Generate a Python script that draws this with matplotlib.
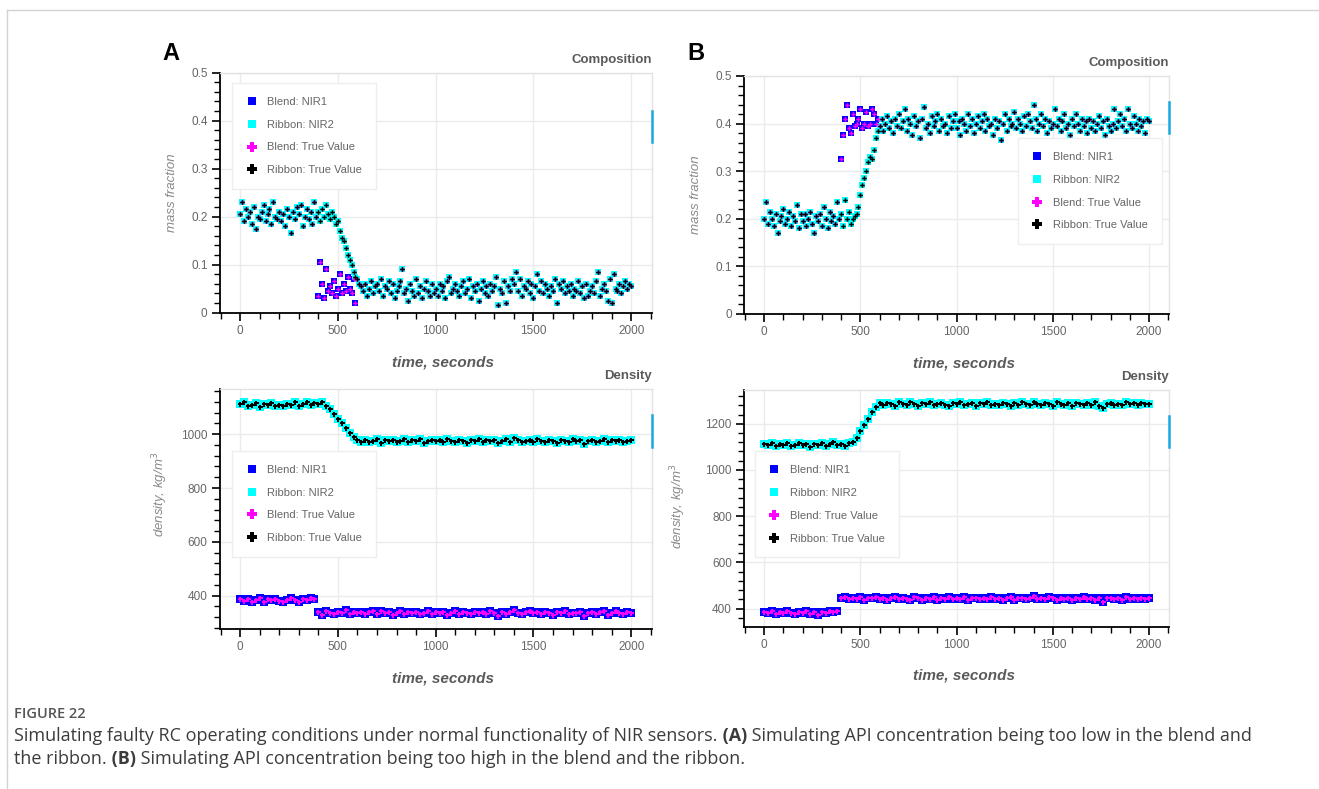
import matplotlib
matplotlib.use("Agg")

import numpy as np
import matplotlib.pyplot as plt
from matplotlib.lines import Line2D
from matplotlib.ticker import MultipleLocator, FuncFormatter

plt.rcParams["font.family"] = ["Liberation Sans", "DejaVu Sans"]

# -----------------------------
# DATA
# -----------------------------
COMP_STEP = 10   # seconds between composition samples
DENS_STEP = 20   # seconds between density samples
BLEND_SEG_START = 400  # blend composition departs from ribbon here

comp_a_ribbon = [
    0.205, 0.23, 0.19, 0.215, 0.2, 0.21, 0.185, 0.22, 0.175, 0.2,
    0.195, 0.21, 0.225, 0.19, 0.205, 0.215, 0.185, 0.23, 0.2, 0.195,
    0.21, 0.19, 0.205, 0.18, 0.215, 0.2, 0.165, 0.21, 0.195, 0.22,
    0.205, 0.225, 0.18, 0.2, 0.215, 0.195, 0.21, 0.185, 0.23, 0.2,
    0.21, 0.19, 0.215, 0.2, 0.225, 0.205, 0.195, 0.21, 0.2, 0.185,
    0.19, 0.17, 0.155, 0.15, 0.135, 0.12, 0.11, 0.1, 0.085, 0.075,
    0.07, 0.06, 0.055, 0.045, 0.06, 0.035, 0.05, 0.065, 0.04, 0.055,
    0.06, 0.045, 0.07, 0.035, 0.055, 0.05, 0.065, 0.04, 0.06, 0.03,
    0.045, 0.055, 0.065, 0.09, 0.04, 0.05, 0.025, 0.06, 0.045, 0.035,
    0.07, 0.04, 0.055, 0.03, 0.05, 0.065, 0.045, 0.035, 0.06, 0.04,
    0.05, 0.035, 0.06, 0.045, 0.055, 0.03, 0.065, 0.075, 0.04, 0.05,
    0.06, 0.045, 0.035, 0.055, 0.065, 0.04, 0.05, 0.07, 0.03, 0.055,
    0.045, 0.06, 0.025, 0.05, 0.065, 0.04, 0.055, 0.035, 0.06, 0.045,
    0.055, 0.075, 0.015, 0.05, 0.04, 0.065, 0.02, 0.055, 0.045, 0.07,
    0.06, 0.085, 0.045, 0.07, 0.035, 0.055, 0.05, 0.065, 0.04, 0.06,
    0.03, 0.055, 0.08, 0.045, 0.065, 0.04, 0.06, 0.05, 0.035, 0.055,
    0.045, 0.07, 0.02, 0.06, 0.05, 0.065, 0.04, 0.055, 0.045, 0.06,
    0.035, 0.05, 0.045, 0.065, 0.04, 0.055, 0.03, 0.06, 0.035, 0.045,
    0.055, 0.04, 0.065, 0.085, 0.035, 0.05, 0.06, 0.045, 0.025, 0.07,
    0.02, 0.08, 0.05, 0.045, 0.06, 0.04, 0.055, 0.065, 0.05, 0.06,
    0.055,
]
comp_a_blend_seg = [
    0.035, 0.105, 0.06, 0.03, 0.09, 0.045, 0.055, 0.04, 0.065, 0.035,
    0.05, 0.08, 0.04, 0.06, 0.045, 0.075, 0.05, 0.04, 0.07, 0.02,
]

comp_b_ribbon = [
    0.2, 0.235, 0.19, 0.215, 0.2, 0.185, 0.21, 0.17, 0.195, 0.205,
    0.22, 0.19, 0.2, 0.215, 0.185, 0.205, 0.195, 0.23, 0.18, 0.21,
    0.195, 0.21, 0.185, 0.2, 0.215, 0.19, 0.17, 0.205, 0.195, 0.21,
    0.185, 0.225, 0.2, 0.18, 0.215, 0.195, 0.205, 0.19, 0.235, 0.2,
    0.21, 0.185, 0.24, 0.2, 0.215, 0.19, 0.2, 0.205, 0.21, 0.225,
    0.25, 0.27, 0.285, 0.3, 0.32, 0.33, 0.325, 0.345, 0.37, 0.385,
    0.395, 0.41, 0.385, 0.4, 0.415, 0.39, 0.405, 0.38, 0.41, 0.395,
    0.42, 0.39, 0.405, 0.43, 0.385, 0.41, 0.4, 0.375, 0.415, 0.395,
    0.405, 0.37, 0.41, 0.435, 0.39, 0.4, 0.38, 0.415, 0.395, 0.405,
    0.42, 0.385, 0.41, 0.395, 0.4, 0.38, 0.415, 0.39, 0.405, 0.42,
    0.39, 0.405, 0.375, 0.41, 0.4, 0.385, 0.42, 0.395, 0.41, 0.38,
    0.4, 0.415, 0.39, 0.405, 0.42, 0.385, 0.41, 0.395, 0.4, 0.375,
    0.41, 0.39, 0.405, 0.365, 0.4, 0.42, 0.385, 0.41, 0.395, 0.4,
    0.425, 0.39, 0.41, 0.4, 0.385, 0.415, 0.395, 0.42, 0.405, 0.39,
    0.44, 0.41, 0.385, 0.4, 0.42, 0.395, 0.41, 0.38, 0.405, 0.39,
    0.4, 0.43, 0.395, 0.41, 0.385, 0.405, 0.42, 0.39, 0.4, 0.375,
    0.41, 0.395, 0.42, 0.4, 0.385, 0.41, 0.395, 0.405, 0.38, 0.41,
    0.39, 0.405, 0.385, 0.4, 0.415, 0.39, 0.405, 0.375, 0.41, 0.395,
    0.385, 0.4, 0.43, 0.39, 0.405, 0.42, 0.395, 0.41, 0.385, 0.43,
    0.4, 0.39, 0.415, 0.4, 0.385, 0.41, 0.395, 0.405, 0.38, 0.41,
    0.405,
]
comp_b_blend_seg = [
    0.325, 0.375, 0.41, 0.44, 0.39, 0.38, 0.42, 0.395, 0.4, 0.41,
    0.43, 0.39, 0.4, 0.425, 0.395, 0.4, 0.43, 0.42, 0.4, 0.41,
]

dens_a_ribbon = [
    1112, 1118, 1105, 1110, 1115, 1102, 1112, 1108, 1116, 1106,
    1110, 1104, 1114, 1108, 1118, 1106, 1112, 1120, 1109, 1115,
    1112, 1118, 1105, 1092, 1075, 1058, 1040, 1022, 1004, 988,
    978, 972, 980, 970, 976, 984, 968, 978, 974, 980,
    972, 976, 984, 970, 978, 974, 982, 968, 976, 980,
    974, 978, 970, 982, 976, 972, 980, 974, 968, 978,
    976, 982, 970, 978, 974, 980, 966, 976, 982, 972,
    986, 978, 970, 976, 980, 972, 984, 976, 970, 978,
    974, 968, 980, 976, 972, 982, 974, 978, 962, 976,
    980, 972, 976, 984, 970, 978, 974, 980, 972, 976,
    978,
]
dens_a_blend = [
    386, 380, 389, 376, 384, 391, 378, 386, 382, 388,
    380, 375, 385, 390, 382, 378, 388, 384, 393, 386,
    338, 329, 343, 336, 332, 341, 335, 345, 330, 338,
    334, 340, 331, 338, 343, 330, 342, 334, 340, 328,
    336, 342, 330, 338, 334, 340, 332, 337, 343, 331,
    338, 334, 341, 329, 336, 343, 333, 339, 335, 331,
    340, 334, 338, 330, 344, 336, 326, 339, 333, 341,
    346, 335, 331, 339, 343, 334, 338, 330, 341, 336,
    327, 339, 335, 343, 331, 337, 334, 340, 324, 336,
    340, 333, 338, 342, 329, 336, 343, 335, 331, 339,
    337,
]
dens_b_ribbon = [
    1114, 1108, 1118, 1104, 1112, 1106, 1115, 1102, 1110, 1116,
    1106, 1112, 1100, 1114, 1108, 1118, 1104, 1112, 1120, 1108,
    1112, 1104, 1116, 1120, 1140, 1168, 1196, 1222, 1250, 1272,
    1288, 1282, 1290, 1284, 1278, 1292, 1286, 1280, 1294, 1284,
    1278, 1288, 1284, 1292, 1280, 1286, 1290, 1282, 1276, 1288,
    1284, 1292, 1280, 1286, 1290, 1278, 1288, 1284, 1294, 1282,
    1286, 1280, 1290, 1284, 1276, 1288, 1282, 1292, 1284, 1280,
    1296, 1286, 1280, 1290, 1284, 1278, 1292, 1286, 1282, 1288,
    1276, 1290, 1284, 1280, 1288, 1282, 1292, 1278, 1270, 1286,
    1290, 1282, 1286, 1280, 1294, 1284, 1288, 1280, 1290, 1286,
    1284,
]
dens_b_blend = [
    386, 380, 390, 378, 385, 381, 388, 383, 379, 387,
    382, 388, 378, 385, 374, 386, 381, 389, 384, 390,
    446, 452, 440, 448, 443, 450, 438, 447, 444, 451,
    442, 448, 439, 446, 452, 441, 447, 443, 438, 449,
    445, 439, 448, 442, 450, 437, 446, 443, 449, 440,
    446, 442, 451, 439, 447, 444, 440, 448, 443, 450,
    441, 447, 438, 445, 450, 436, 444, 448, 441, 446,
    454, 443, 447, 440, 449, 445, 439, 446, 442, 448,
    436, 447, 443, 450, 440, 445, 438, 446, 430, 444,
    448, 441, 446, 439, 450, 443, 447, 440, 445, 442,
    446,
]

LABELS = ["Blend: NIR1", "Ribbon: NIR2", "Blend: True Value", "Ribbon: True Value"]

# -----------------------------
# LAYOUT / STYLE
# -----------------------------
W, H = 1319, 789
BLUE, CYAN, MAGENTA = "#0000ff", "#00ffff", "#ff00ff"
GREY_TXT = "#666666"
ACCENT = "#1aa8e0"


def px_rect(x0, y0, x1, y1):
    return [x0 / W, 1 - y1 / H, (x1 - x0) / W, (y1 - y0) / H]


def blend_from(ribbon, seg):
    out = list(ribbon)
    i0 = BLEND_SEG_START // COMP_STEP
    out[i0:i0 + len(seg)] = seg
    return out


def style_axes(ax, ylim, ymajor, yminor, fmt):
    ax.set_xlim(-103, 2105)
    ax.set_ylim(*ylim)
    ax.xaxis.set_major_locator(MultipleLocator(500))
    ax.xaxis.set_minor_locator(MultipleLocator(100))
    ax.yaxis.set_major_locator(MultipleLocator(ymajor))
    ax.yaxis.set_minor_locator(MultipleLocator(yminor))
    ax.yaxis.set_major_formatter(FuncFormatter(fmt))
    ax.xaxis.set_major_formatter(FuncFormatter(lambda v, p: f"{v:g}"))
    for s in ["top", "right"]:
        ax.spines[s].set_color("#e2e2e2")
        ax.spines[s].set_linewidth(1)
    for s in ["left", "bottom"]:
        ax.spines[s].set_color("black")
        ax.spines[s].set_linewidth(1.3)
    ax.grid(True, which="major", color="#ebebeb", linewidth=1)
    ax.set_axisbelow(True)
    ax.tick_params(which="major", direction="out", length=6, width=1.2,
                   color="black", labelcolor=GREY_TXT, labelsize=8.5, pad=3)
    ax.tick_params(which="minor", direction="out", length=4, width=1, color="black")


def draw_panel(ax, t, blend, ribbon, ms_sq, ms_p):
    ax.plot(t, blend, "s", color=BLUE, ms=ms_sq, mew=0, zorder=3)
    ax.plot(t, ribbon, "s", color=CYAN, ms=ms_sq, mew=0, zorder=4)
    ax.plot(t, blend, "P", color=MAGENTA, ms=ms_p, mew=0, zorder=5)
    ax.plot(t, ribbon, "P", color="black", ms=ms_p, mew=0, zorder=6)


def add_legend(ax, x, y):
    handles = [
        Line2D([], [], ls="", marker="s", color=BLUE, ms=6, mew=0),
        Line2D([], [], ls="", marker="s", color=CYAN, ms=6, mew=0),
        Line2D([], [], ls="", marker="P", color=MAGENTA, ms=6.5, mew=0),
        Line2D([], [], ls="", marker="P", color="black", ms=6.5, mew=0),
    ]
    leg = ax.legend(handles, LABELS, loc="upper left", bbox_to_anchor=(x, y),
                    frameon=True, fancybox=False, framealpha=1,
                    edgecolor="#eeeeee", fontsize=8, labelcolor=GREY_TXT,
                    handlelength=1.0, handletextpad=0.9, borderpad=1.25,
                    labelspacing=1.15, borderaxespad=0)
    leg.get_frame().set_linewidth(1)
    leg.set_zorder(10)


fig = plt.figure(figsize=(W / 100, H / 100), dpi=100)

# outer frame of the figure card
fig.add_artist(Line2D([7 / W, 1], [1 - 10 / H, 1 - 10 / H], color="#d2d2d2", lw=1))
fig.add_artist(Line2D([7 / W, 7 / W], [0, 1 - 10 / H], color="#d2d2d2", lw=1))

t_comp_a = np.arange(len(comp_a_ribbon)) * COMP_STEP
t_comp_b = np.arange(len(comp_b_ribbon)) * COMP_STEP
t_dens_a = np.arange(len(dens_a_ribbon)) * DENS_STEP
t_dens_b = np.arange(len(dens_b_ribbon)) * DENS_STEP

comp_fmt = lambda v, p: f"{v:g}"
dens_fmt = lambda v, p: f"{v:.0f}"

panels = [
    dict(rect=(220, 72.7, 651.7, 312.7), t=t_comp_a,
         blend=blend_from(comp_a_ribbon, comp_a_blend_seg), ribbon=comp_a_ribbon,
         ylim=(0, 0.5), ymaj=0.1, ymin=0.02, fmt=comp_fmt, title="Composition",
         ylabel="mass fraction", ylab_x=-0.097, ylab_y=0.5, leg=(0.028, 0.957),
         ms=(5.0, 3.3), bar=(0.71, 0.84)),
    dict(rect=(744.3, 76, 1169.3, 314), t=t_comp_b,
         blend=blend_from(comp_b_ribbon, comp_b_blend_seg), ribbon=comp_b_ribbon,
         ylim=(0, 0.5), ymaj=0.1, ymin=0.02, fmt=comp_fmt, title="Composition",
         ylabel="mass fraction", ylab_x=-0.1, ylab_y=0.5, leg=(0.644, 0.739),
         ms=(5.0, 3.3), bar=(0.76, 0.89)),
    dict(rect=(220, 389, 651.7, 629), t=t_dens_a,
         blend=dens_a_blend, ribbon=dens_a_ribbon,
         ylim=(276, 1168), ymaj=200, ymin=40, fmt=dens_fmt, title="Density",
         ylabel="density, kg/m$^3$", ylab_x=-0.116, ylab_y=0.56, leg=(0.028, 0.742),
         ms=(5.5, 3.6), bar=(0.76, 0.89)),
    dict(rect=(744.3, 390, 1169.3, 626.7), t=t_dens_b,
         blend=dens_b_blend, ribbon=dens_b_ribbon,
         ylim=(322, 1346), ymaj=200, ymin=40, fmt=dens_fmt, title="Density",
         ylabel="density, kg/m$^3$", ylab_x=-0.132, ylab_y=0.51, leg=(0.025, 0.741),
         ms=(5.5, 3.6), bar=(0.76, 0.89)),
]

for p in panels:
    ax = fig.add_axes(px_rect(*p["rect"]))
    style_axes(ax, p["ylim"], p["ymaj"], p["ymin"], p["fmt"])
    draw_panel(ax, p["t"], p["blend"], p["ribbon"], *p["ms"])

    ax.set_ylabel(p["ylabel"], fontsize=9.5, style="italic", color="#8a8a8a")
    ax.yaxis.set_label_coords(p["ylab_x"], p["ylab_y"])
    ax.set_xlabel("time, seconds", fontsize=11, style="italic", weight="bold", color="#5a5a5a")
    ax.xaxis.set_label_coords(0.516, -0.178)

    ax.text(1.0, 1.055, p["title"], transform=ax.transAxes, ha="right", va="center",
            fontsize=9.5, weight="bold", color="#5a5a5a")

    add_legend(ax, *p["leg"])

    # little blue marker on the right edge of each plot frame
    ax.add_line(Line2D([1.0, 1.0], list(p["bar"]), transform=ax.transAxes,
                       color=ACCENT, lw=1.8, clip_on=False, zorder=12))

fig.text(171 / W, 1 - 54 / H, "A", fontsize=17, weight="bold", ha="center", va="center")
fig.text(696 / W, 1 - 54 / H, "B", fontsize=17, weight="bold", ha="center", va="center")

# -----------------------------
# CAPTION
# -----------------------------
CAP_FONT = ["Open Sans", "DejaVu Sans"]
fig.text(14 / W, 1 - 714 / H, "FIGURE 22", fontsize=10.5, weight="semibold",
         color="#555555", family=CAP_FONT, va="center")

caption_lines = [
    (736, [("Simulating faulty RC operating conditions under normal functionality of NIR sensors.", "normal"),
           (" (A)", "bold"),
           (" Simulating API concentration being too low in the blend and", "normal")]),
    (759, [("the ribbon.", "normal"),
           (" (B)", "bold"),
           (" Simulating API concentration being too high in the blend and the ribbon.", "normal")]),
]

renderer = fig.canvas.get_renderer()
for y_px, parts in caption_lines:
    x_px = 14
    for s, w in parts:
        txt = fig.text(x_px / W, 1 - y_px / H, s, fontsize=13.0, weight=w,
                       color="#3c3c3c", family=CAP_FONT, va="center")
        x_px += txt.get_window_extent(renderer).width

fig.savefig("out.png", dpi=100)
